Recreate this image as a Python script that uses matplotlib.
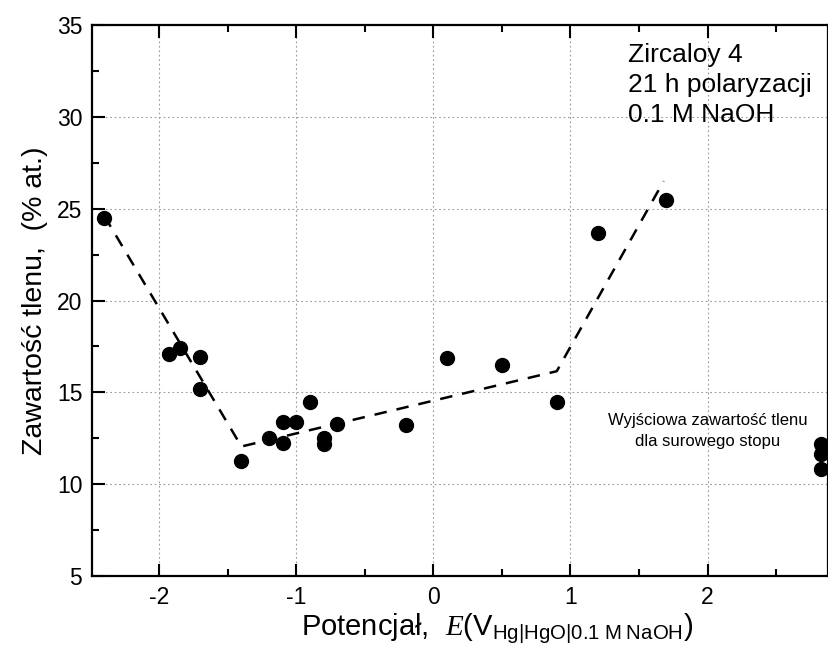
import matplotlib
matplotlib.use('Agg')
import matplotlib.pyplot as plt
from matplotlib.ticker import MultipleLocator

plt.rcParams['font.family'] = ['Liberation Sans', 'DejaVu Sans']
plt.rcParams['mathtext.fontset'] = 'custom'
plt.rcParams['mathtext.rm'] = 'Liberation Sans'
plt.rcParams['mathtext.it'] = 'Liberation Serif:italic'

# measured oxygen content vs polarisation potential
potential = [-2.4, -1.93, -1.85, -1.7, -1.7, -1.4, -1.2, -1.1, -1.1, -1.0, -0.9,
             -0.8, -0.8, -0.7, -0.2, 0.1, 0.5, 0.9, 1.2, 1.7]
oxygen = [24.5, 17.1, 17.4, 16.9, 15.2, 11.25, 12.5, 13.4, 12.25, 13.4, 14.45,
          12.5, 12.2, 13.25, 13.2, 16.85, 16.5, 14.5, 23.7, 25.45]

# raw alloy reference values
raw_x = [2.83, 2.83, 2.83]
raw_y = [12.2, 11.65, 10.8]

# trend guide
trend_x = [-2.4, -1.4, 0.9, 1.68]
trend_y = [24.6, 12.05, 16.15, 26.5]

fig = plt.figure(figsize=(8.29, 6.59), dpi=100)
ax = fig.add_axes([0.111, 0.126, 0.888, 0.836])

ax.plot(trend_x, trend_y, color='black', ls=(0, (5, 4)), lw=1.8, zorder=2)
ax.plot(potential, oxygen, 'o', color='black', ms=10, zorder=3)
ax.plot(raw_x, raw_y, 'o', color='black', ms=10, zorder=3, clip_on=False)

ax.set_xlim(-2.49, 2.88)
ax.set_ylim(5, 35)
ax.xaxis.set_major_locator(MultipleLocator(1))
ax.xaxis.set_minor_locator(MultipleLocator(0.5))
ax.yaxis.set_major_locator(MultipleLocator(5))
ax.yaxis.set_minor_locator(MultipleLocator(2.5))
ax.grid(True, which='major', ls=(0, (1.5, 2.5)), color='#999999', lw=0.8)
ax.set_axisbelow(True)

ax.tick_params(which='both', direction='in', top=True, right=False, width=1.5,
               labelsize=16.5, pad=7)
ax.tick_params(which='major', length=9)
ax.tick_params(which='minor', length=5)
for s in ax.spines.values():
    s.set_linewidth(1.6)

ax.set_xticks([-2, -1, 0, 1, 2])
ax.set_xticklabels(['-2', '-1', '0', '1', '2'])

ax.set_ylabel('Zawartość tlenu,  (% at.)', fontsize=20.5, labelpad=6)
ax.set_xlabel(r'Potencjał,  $\mathit{E}$(V$_{\mathrm{Hg|HgO|0.1\ M\ NaOH}}$)',
              fontsize=21, labelpad=4)
ax.xaxis.set_label_coords(0.55, -0.065)

ax.text(1.42, 34.0, 'Zircaloy 4\n21 h polaryzacji\n0.1 M NaOH', fontsize=19,
        va='top', ha='left', linespacing=1.3)
ax.text(2.0, 12.9, 'Wyjściowa zawartość tlenu\ndla surowego stopu', fontsize=12,
        va='center', ha='center', linespacing=1.55)

fig.savefig('out.png', dpi=100)
